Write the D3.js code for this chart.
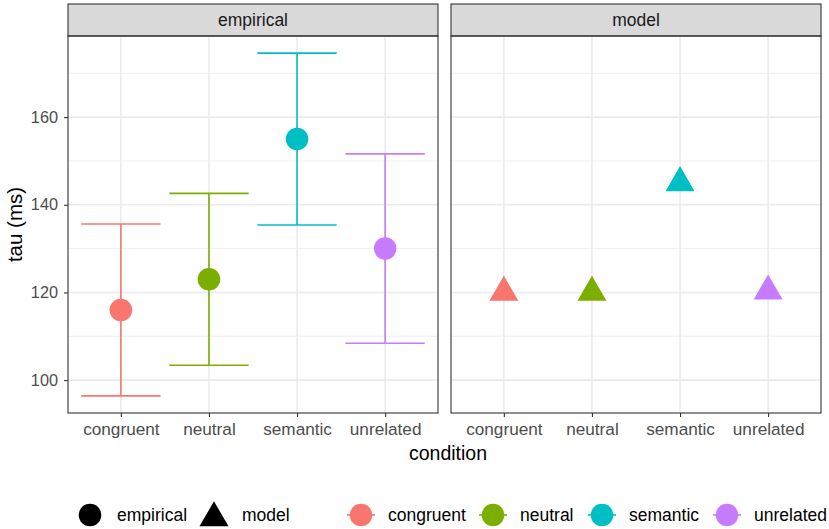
<!DOCTYPE html>
<html>
<head>
<meta charset="utf-8">
<script src="https://cdn.jsdelivr.net/npm/d3@7"></script>
<style>
  body { margin: 0; background: white; }
  text { font-family: "Liberation Sans", Arial, sans-serif; }
</style>
</head>
<body>
<div id="chart"></div>
<script>
var conditions = ['congruent', 'neutral', 'semantic', 'unrelated'];
var colors = ['#F8766D', '#7CAE00', '#00BFC4', '#C77CFF'];
var empMean = [116, 123, 155, 130];
var empLow = [96.4, 103.4, 135.4, 108.4];
var empHigh = [135.6, 142.6, 174.6, 151.6];
var modelMean = [120, 120, 145, 120.3];
var yTicks = [100, 120, 140, 160];
var yMinor = [110, 130, 150, 170];
var panels = ['empirical', 'model'];

var svgWidth = 829, svgHeight = 529;
var svg = d3.select('#chart').append('svg')
    .attr('width', svgWidth).attr('height', svgHeight)
    .style('background', 'white');

var panelTop = 36, panelBottom = 413, stripTop = 4;
var panelX = [[68, 438], [451, 821]];

var y = d3.scaleLinear().domain([92.5, 178.5]).range([panelBottom, panelTop]);
var color = d3.scaleOrdinal().domain(conditions).range(colors);

panels.forEach(function(p, i) {
    var x = d3.scalePoint().domain(conditions).range(panelX[i]).padding(0.6);
    var g = svg.append('g');
    var x0 = panelX[i][0], x1 = panelX[i][1];

    // grid
    yMinor.forEach(function(v) {
        g.append('line').attr('x1', x0).attr('x2', x1).attr('y1', y(v)).attr('y2', y(v))
            .attr('stroke', '#ebebeb').attr('stroke-width', 0.8);
    });
    yTicks.forEach(function(v) {
        g.append('line').attr('x1', x0).attr('x2', x1).attr('y1', y(v)).attr('y2', y(v))
            .attr('stroke', '#ebebeb').attr('stroke-width', 1.6);
    });
    conditions.forEach(function(c) {
        g.append('line').attr('x1', x(c)).attr('x2', x(c)).attr('y1', panelTop).attr('y2', panelBottom)
            .attr('stroke', '#ebebeb').attr('stroke-width', 1.6);
    });

    // strip
    g.append('rect').attr('x', x0).attr('y', stripTop).attr('width', x1 - x0).attr('height', panelTop - stripTop)
        .attr('fill', '#d9d9d9').attr('stroke', '#333333').attr('stroke-width', 1.1);
    g.append('text').text(p)
        .attr('x', (x0 + x1) / 2).attr('y', 26)
        .attr('text-anchor', 'middle').attr('font-size', '17.5px').attr('fill', '#1a1a1a');

    // marks
    if (p == 'empirical') {
        var bw = x.step() * 0.9;
        conditions.forEach(function(c, j) {
            var col = color(c);
            g.append('line').attr('x1', x(c)).attr('x2', x(c)).attr('y1', y(empLow[j])).attr('y2', y(empHigh[j]))
                .attr('stroke', col).attr('stroke-width', 1.6);
            g.append('line').attr('x1', x(c) - bw / 2).attr('x2', x(c) + bw / 2).attr('y1', y(empLow[j])).attr('y2', y(empLow[j]))
                .attr('stroke', col).attr('stroke-width', 1.6);
            g.append('line').attr('x1', x(c) - bw / 2).attr('x2', x(c) + bw / 2).attr('y1', y(empHigh[j])).attr('y2', y(empHigh[j]))
                .attr('stroke', col).attr('stroke-width', 1.6);
            g.append('circle').attr('cx', x(c)).attr('cy', y(empMean[j])).attr('r', 11.3)
                .attr('fill', col);
        });
    } else {
        conditions.forEach(function(c, j) {
            g.append('path').attr('d', d3.symbol(d3.symbolTriangle, 364)())
                .attr('transform', 'translate(' + x(c) + ',' + y(modelMean[j]) + ')')
                .attr('fill', color(c));
        });
    }

    // border
    g.append('rect').attr('x', x0).attr('y', panelTop).attr('width', x1 - x0).attr('height', panelBottom - panelTop)
        .attr('fill', 'none').attr('stroke', '#333333').attr('stroke-width', 1.1);

    // x axis
    var xa = g.append('g').attr('transform', 'translate(0,' + panelBottom + ')')
        .call(d3.axisBottom(x).tickSize(4).tickPadding(6));
    xa.select('.domain').remove();
    xa.selectAll('line').attr('stroke', '#333333').attr('stroke-width', 1.1);
    xa.selectAll('text').attr('font-size', '17.2px').attr('fill', '#4d4d4d')
        .style('font-family', '"Liberation Sans", Arial, sans-serif');

    if (i == 0) {
        var ya = g.append('g').attr('transform', 'translate(' + x0 + ',0)')
            .call(d3.axisLeft(y).tickValues(yTicks).tickSize(4).tickPadding(6));
        ya.select('.domain').remove();
        ya.selectAll('line').attr('stroke', '#333333').attr('stroke-width', 1.1);
        ya.selectAll('text').attr('font-size', '16.3px').attr('fill', '#4d4d4d')
            .style('font-family', '"Liberation Sans", Arial, sans-serif');
    }
});

// axis titles
svg.append('text').text('condition')
    .attr('x', 448).attr('y', 460)
    .attr('text-anchor', 'middle').attr('font-size', '19.5px').attr('fill', 'black');
svg.append('text').text('tau (ms)')
    .attr('transform', 'translate(22,' + (panelTop + panelBottom) / 2 + ') rotate(-90)')
    .attr('text-anchor', 'middle').attr('font-size', '20.5px').attr('fill', 'black');

// legend
var legY = 515;
var leg = svg.append('g');
leg.append('circle').attr('cx', 90).attr('cy', legY).attr('r', 11.3).attr('fill', 'black');
leg.append('text').text('empirical').attr('x', 117).attr('y', legY + 6).attr('font-size', '17.5px').attr('fill', 'black');
leg.append('path').attr('d', d3.symbol(d3.symbolTriangle, 364)())
    .attr('transform', 'translate(214,' + (legY + 3) + ')').attr('fill', 'black');
leg.append('text').text('model').attr('x', 242).attr('y', legY + 6).attr('font-size', '17.5px').attr('fill', 'black');

var legX = [361, 493, 602, 727];
conditions.forEach(function(c, j) {
    leg.append('line').attr('x1', legX[j] - 14).attr('x2', legX[j] + 14).attr('y1', legY).attr('y2', legY)
        .attr('stroke', color(c)).attr('stroke-width', 1.6);
    leg.append('circle').attr('cx', legX[j]).attr('cy', legY).attr('r', 11.3).attr('fill', color(c));
    leg.append('text').text(c).attr('x', legX[j] + 27).attr('y', legY + 6)
        .attr('font-size', '17.5px').attr('fill', 'black');
});
</script>
</body>
</html>
